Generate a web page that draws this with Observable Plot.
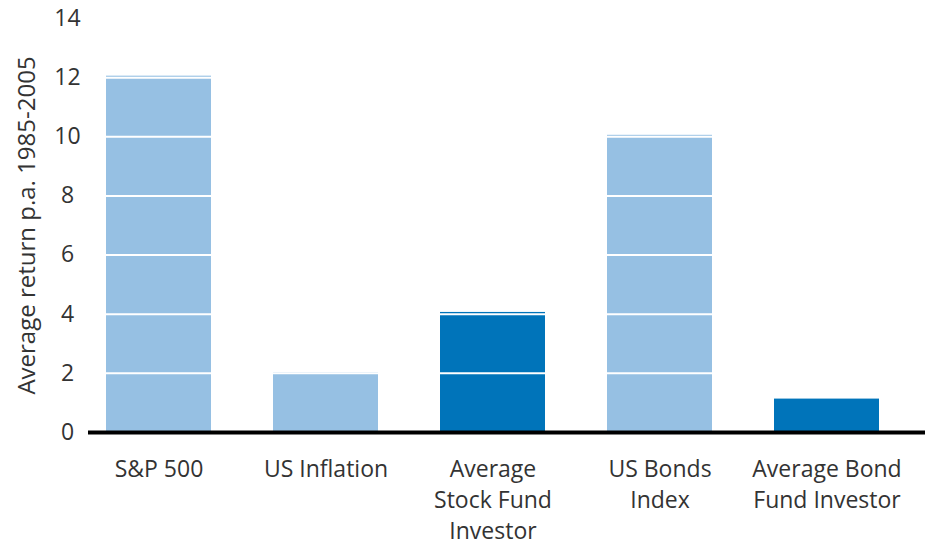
<!DOCTYPE html>
<html>
<head>
<meta charset="utf-8">
<script src="https://cdn.jsdelivr.net/npm/d3@7"></script>
<script src="https://cdn.jsdelivr.net/npm/@observablehq/plot@0.6"></script>
<style>
  html, body { margin: 0; padding: 0; background: #fff; }
  #chart { width: 925px; height: 546px; }
</style>
</head>
<body>
<div id="chart"></div>
<script>
const categories = ["S&P 500", "US Inflation", "Average Stock Fund Investor", "US Bonds Index", "Average Bond Fund Investor"];
const labels = ["S&P 500", "US Inflation", "Average\nStock Fund\nInvestor", "US Bonds\nIndex", "Average Bond\nFund Investor"];
const values = [12.05, 2.02, 4.06, 10.05, 1.13];
const kinds = ["index", "index", "investor", "index", "investor"];
const yTicks = [0, 2, 4, 6, 8, 10, 12, 14];
const gridLines = [2, 4, 6, 8, 10, 12];

const data = categories.map((c, i) => ({category: c, value: values[i], kind: kinds[i]}));
const labelOf = new Map(categories.map((c, i) => [c, labels[i]]));

const chart = Plot.plot({
  width: 925,
  height: 546,
  marginTop: 18,
  marginBottom: 114,
  marginLeft: 88,
  marginRight: 0,
  style: {fontFamily: "'Open Sans', sans-serif", fontSize: "23px", color: "#333", background: "#fff"},
  x: {domain: categories, paddingInner: 0.37, paddingOuter: 0.18, align: 0.28},
  y: {domain: [0, 14]},
  color: {domain: ["index", "investor"], range: ["#96c0e3", "#0074ba"]},
  marks: [
    Plot.barY(data, {x: "category", y: "value", fill: "kind"}),
    Plot.ruleY(gridLines, {stroke: "#fff", strokeWidth: 2}),
    Plot.ruleY([0], {stroke: "#000", strokeWidth: 4}),
    Plot.axisY({
      ticks: yTicks, tickSize: 0, tickPadding: 21, textAnchor: "middle",
      fontSize: 23,
      label: null
    }),
    Plot.axisY({
      ticks: [], tickSize: 0, fontSize: 24,
      label: "Average return p.a. 1985-2005", labelAnchor: "center", labelArrow: "none", labelOffset: 71
    }),
    Plot.axisX({
      tickSize: 0, tickPadding: 22, fontSize: 23, lineHeight: 1.35,
      tickFormat: d => labelOf.get(d), label: null
    })
  ]
});
document.getElementById("chart").appendChild(chart);
</script>
</body>
</html>
